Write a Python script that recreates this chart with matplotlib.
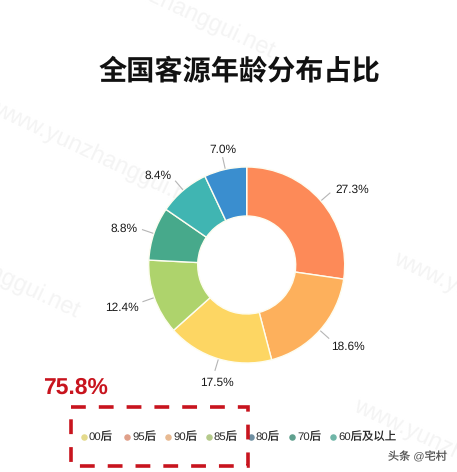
"""
donut chart of guest age shares, with the red highlight box on the legend
"""
import numpy as np
import matplotlib.pyplot as plt
from matplotlib.patches import Rectangle

plt.rcParams['font.family'] = ['Liberation Sans', 'Noto Sans CJK SC', 'DejaVu Sans']
plt.rcParams['text.hinting'] = 'none'

title = "全国客源年龄分布占比"
categories = ["00后", "95后", "90后", "85后", "80后", "70后", "60后及以上"]
shares = [27.3, 18.6, 17.5, 12.4, 8.8, 8.4, 7.0]
share_labels = ["27.3%", "18.6%", "17.5%", "12.4%", "8.8%", "8.4%", "7.0%"]
slice_colors = ["#fd8a58", "#fdb05c", "#fdd663", "#aed36c", "#47a98b", "#40b5b2", "#3a8ecf"]
legend_colors = ["#e4da8c", "#e0a08a", "#e8ba92", "#b5ca8b", "#6f8fa2", "#5fa08e", "#70b6a8"]
highlight = "75.8%"
footer = "头条 @宅村"
watermark = "www.yunzhanggui.net"

W, H = 457, 472
fig = plt.figure(figsize=(W / 100, H / 100), dpi=100)

# overlay in pixel coordinates, for everything that is not the donut
bg = fig.add_axes([0, 0, 1, 1])
bg.set_xlim(0, W)
bg.set_ylim(H, 0)
bg.axis("off")

# faint watermark behind the chart
for x, y in [(65, -45), (-5, 108), (-130, 215), (355, 405), (395, 258)]:
    bg.text(x, y, watermark, fontsize=17, color="#f4f4f4", rotation=-25,
            rotation_mode="anchor", ha="left", va="center", zorder=0)

bg.text(239, 72.5, title, fontsize=20.3, fontweight="bold", color="#111111",
        family=["Noto Sans CJK SC", "DejaVu Sans"], ha="center", va="center")

# donut, the axes is exactly the bounding box of the circle
cx, cy, r = 246.7, 265, 98
ax = fig.add_axes([(cx - r) / W, 1 - (cy + r) / H, 2 * r / W, 2 * r / H])
wedges, _ = ax.pie(shares, colors=slice_colors, startangle=90, counterclock=False,
                   radius=1, wedgeprops=dict(width=0.5, edgecolor="#fdfdf0", linewidth=1))
ax.set_xlim(-1, 1)
ax.set_ylim(-1, 1)

# leader lines and labels, the nudges are pixels by eye
nudges = [(1, -1), (-3, 7), (2, 4), (1, 4), (0, 1), (1, -3), (0, 0)]
for w, lab, (nx, ny) in zip(wedges, share_labels, nudges):
    ang = np.deg2rad((w.theta1 + w.theta2) / 2)
    dx, dy = np.cos(ang), np.sin(ang)
    x0, y0 = cx + r * dx, cy - r * dy
    x1, y1 = cx + (r + 12) * dx, cy - (r + 12) * dy
    bg.plot([x0, x1], [y0, y1], color="#b5b5b5", lw=0.8, zorder=1)
    if abs(dx) < 0.3:
        ha, tx = "center", x1
        ty = y1 + 8 * (-1 if dy > 0 else 1)
    elif dx > 0:
        ha, tx, ty = "left", x1 + 5, y1 - 2 * np.sign(dy)
    else:
        ha, tx, ty = "right", x1 - 5, y1 - 2 * np.sign(dy)
    bg.text(tx + nx, ty + ny, lab, fontsize=8.6, color="#1a1a1a", ha=ha, va="center")

# legend, dots and text by hand because the box has to sit around part of it
legend_x = [84, 127, 168, 209, 251, 292, 333]
for x, name, c in zip(legend_x, categories, legend_colors):
    bg.scatter([x], [437], s=22, color=c, linewidths=0, zorder=3)
    bg.text(x + 5, 437, name, fontsize=8.2, color="#2a2a2a", ha="left", va="center")

# red highlight
bg.add_patch(Rectangle((70.5, 407), 177, 59, fill=False, edgecolor="#c8141e", linewidth=2.6,
                       linestyle=(0, (4.1, 3.6)), zorder=4))
bg.text(43, 388, highlight, fontsize=16.5, fontweight="bold", color="#c8141e",
        ha="left", va="center")

bg.text(447, 457, footer, fontsize=8, color="#555555", ha="right", va="center")

fig.savefig("out.png", dpi=100)
